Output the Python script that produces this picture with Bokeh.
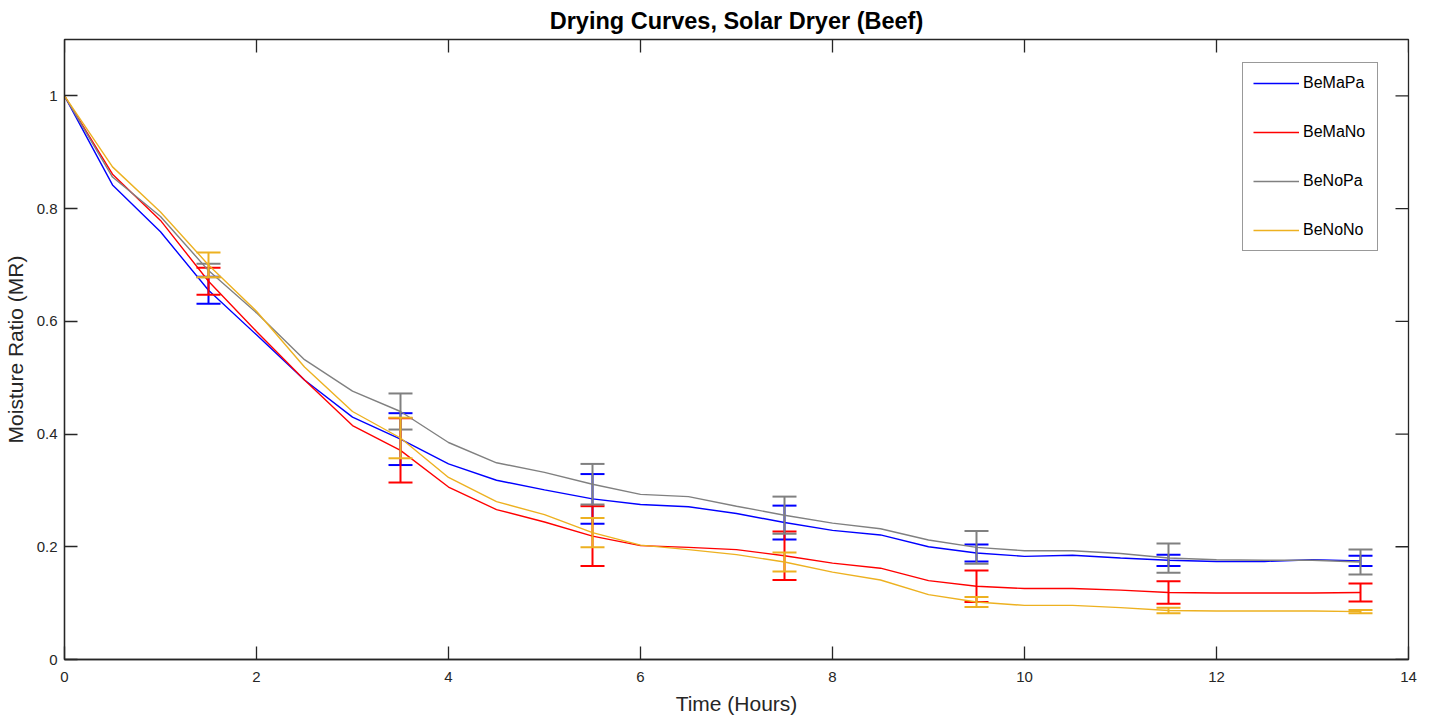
import math
from bokeh.plotting import figure
from bokeh.models import (ColumnDataSource, FixedTicker, Range1d, Legend, LegendItem)
from bokeh.embed import file_html
from bokeh.resources import INLINE

# ---------------- data ----------------
time_h = [0, 0.5, 1, 1.5, 2, 2.5, 3, 3.5, 4, 4.5, 5, 5.5, 6, 6.5, 7,
          7.5, 8, 8.5, 9, 9.5, 10, 10.5, 11, 11.5, 12, 12.5, 13, 13.5]

bemapa = [1.0, 0.842, 0.759, 0.655, 0.576, 0.496, 0.430, 0.391, 0.347, 0.318,
          0.301, 0.285, 0.275, 0.271, 0.259, 0.243, 0.229, 0.221, 0.200, 0.189,
          0.183, 0.185, 0.180, 0.176, 0.174, 0.174, 0.177, 0.175]
bemano = [1.0, 0.861, 0.779, 0.671, 0.582, 0.496, 0.415, 0.371, 0.306, 0.266,
          0.244, 0.219, 0.202, 0.199, 0.195, 0.184, 0.171, 0.162, 0.140, 0.130,
          0.126, 0.126, 0.123, 0.119, 0.118, 0.118, 0.118, 0.119]
benopa = [1.0, 0.856, 0.786, 0.690, 0.615, 0.532, 0.476, 0.440, 0.385, 0.349,
          0.332, 0.311, 0.293, 0.289, 0.272, 0.256, 0.242, 0.232, 0.212, 0.199,
          0.193, 0.193, 0.188, 0.180, 0.177, 0.176, 0.176, 0.173]
benono = [1.0, 0.874, 0.794, 0.700, 0.618, 0.519, 0.440, 0.393, 0.323, 0.280,
          0.257, 0.225, 0.203, 0.195, 0.186, 0.173, 0.155, 0.141, 0.115, 0.102,
          0.096, 0.096, 0.092, 0.087, 0.086, 0.086, 0.086, 0.085]

# error bars (half-widths) at these times
err_time = [1.5, 3.5, 5.5, 7.5, 9.5, 11.5, 13.5]
err_bemapa = [0.024, 0.046, 0.044, 0.030, 0.015, 0.010, 0.009]
err_bemano = [0.024, 0.057, 0.053, 0.043, 0.028, 0.020, 0.016]
err_benopa = [0.012, 0.032, 0.036, 0.033, 0.029, 0.026, 0.022]
err_benono = [0.022, 0.036, 0.026, 0.017, 0.009, 0.005, 0.003]

series_names = ["BeMaPa", "BeMaNo", "BeNoPa", "BeNoNo"]
series_colors = ["#0000FF", "#FF0000", "#808080", "#EDB120"]

x_ticks = [0, 2, 4, 6, 8, 10, 12, 14]
x_tick_labels = ["0", "2", "4", "6", "8", "10", "12", "14"]
y_ticks = [0, 0.2, 0.4, 0.6, 0.8, 1.0]
y_tick_labels = ["0", "0.2", "0.4", "0.6", "0.8", "1"]
x_max = 14
y_max = 1.1

title_text = "Drying Curves, Solar Dryer (Beef)"
x_label = "Time (Hours)"
y_label = "Moisture Ratio (MR)"

# ---------------- figure ----------------
FONT = "Liberation Sans"
AX = "#262626"

p = figure(frame_width=1344, frame_height=620, output_backend="svg",
           toolbar_location=None,
           x_range=Range1d(0, x_max), y_range=Range1d(0, y_max),
           min_border_left=56, min_border_right=16, min_border_top=32,
           min_border_bottom=40)
p.background_fill_color = "white"
p.border_fill_color = "white"
p.outline_line_color = AX
p.outline_line_width = 1.3
p.grid.visible = False

p.title.text = title_text
p.title.align = "center"
p.title.text_font = FONT
p.title.text_font_size = "23.5px"
p.title.text_font_style = "bold"
p.title.text_color = "#000000"
p.title.standoff = 11


def style_axis(ax, labels, ticks):
    ax.ticker = FixedTicker(ticks=ticks)
    ax.major_label_overrides = {t: l for t, l in zip(ticks, labels)}
    ax.major_tick_in = 13
    ax.major_tick_out = 0
    ax.minor_tick_in = 0
    ax.minor_tick_out = 0
    ax.axis_line_color = AX
    ax.major_tick_line_color = AX
    ax.axis_line_width = 1.3
    ax.major_tick_line_width = 1.3
    ax.major_label_text_font = FONT
    ax.major_label_text_color = AX
    ax.major_label_text_font_size = "15px"
    ax.axis_label_text_font = FONT
    ax.axis_label_text_color = AX
    ax.axis_label_text_font_style = "normal"
    ax.axis_label_text_font_size = "21px"


xa = p.xaxis[0]
ya = p.yaxis[0]
style_axis(xa, x_tick_labels, x_ticks)
style_axis(ya, y_tick_labels, y_ticks)
xa.axis_label = x_label
ya.axis_label = y_label
xa.major_label_standoff = 12
ya.major_label_standoff = 7
xa.axis_label_standoff = 7
ya.axis_label_standoff = 7

# inward tick marks on the top and right edges of the box
p.ray(x=x_ticks, y=[y_max] * len(x_ticks), length=13, length_units="screen",
      angle=-math.pi / 2, line_color=AX, line_width=1.3)
p.ray(x=[x_max] * len(y_ticks), y=y_ticks, length=13, length_units="screen",
      angle=math.pi, line_color=AX, line_width=1.3)

all_series = [bemapa, bemano, benopa, benono]
all_errs = [err_bemapa, err_bemano, err_benopa, err_benono]

items = []
for name, color, vals, errs in zip(series_names, series_colors, all_series, all_errs):
    src = ColumnDataSource(dict(x=time_h, y=vals))
    r = p.line("x", "y", source=src, line_color=color, line_width=1.4)
    centers = [vals[time_h.index(t)] for t in err_time]
    lo = [c - e for c, e in zip(centers, errs)]
    hi = [c + e for c, e in zip(centers, errs)]
    esrc = ColumnDataSource(dict(x=err_time, lo=lo, hi=hi))
    p.segment(x0="x", y0="lo", x1="x", y1="hi", source=esrc,
              line_color=color, line_width=2)
    p.scatter(x="x", y="lo", source=esrc, marker="dash", size=24,
              line_color=color, line_width=2)
    p.scatter(x="x", y="hi", source=esrc, marker="dash", size=24,
              line_color=color, line_width=2)
    items.append(LegendItem(label=name, renderers=[r]))

legend = Legend(items=items, location=(1178, 408))
legend.glyph_width = 46
legend.glyph_height = 20
legend.label_height = 20
legend.label_width = 64
legend.label_standoff = 4
legend.spacing = 29
legend.padding = 10
legend.margin = 0
legend.label_text_font = FONT
legend.label_text_font_size = "16px"
legend.label_text_color = "#000000"
legend.border_line_color = "#333333"
legend.border_line_width = 1
legend.background_fill_color = "white"
legend.background_fill_alpha = 1
p.add_layout(legend, "center")

open("out.html", "w").write(file_html(p, INLINE))
